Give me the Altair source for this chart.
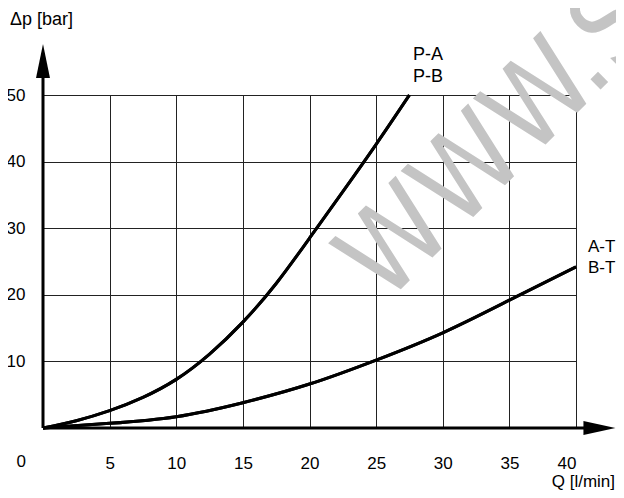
import altair as alt
import pandas as pd

# ---- data ----
q_pa = [0, 2.5, 5, 7.5, 10, 12.5, 15, 17.5, 20, 22.5, 25, 27.5]
dp_pa = [0, 1.1, 2.6, 4.6, 7.3, 11.1, 15.9, 21.7, 28.5, 35.5, 42.6, 50]
q_at = [0, 5, 10, 15, 20, 25, 30, 35, 40]
dp_at = [0, 0.7, 1.7, 3.8, 6.6, 10.2, 14.3, 19.2, 24.2]
x_ticks = [5, 10, 15, 20, 25, 30, 35, 40]
y_ticks = [10, 20, 30, 40, 50]

curves = pd.concat([
    pd.DataFrame({"Q": q_pa, "dp": dp_pa, "s": "P-A/P-B"}),
    pd.DataFrame({"Q": q_at, "dp": dp_at, "s": "A-T/B-T"}),
])

# annotation texts
ann_text = ["Δp [bar]", "P-A", "P-B"]
ann_x = [-2.48, 27.77, 27.77]
ann_y = [60.5, 55.26, 51.95]
ann = pd.DataFrame({"t": ann_text, "x": ann_x, "y": ann_y})

ann3_text = ["A-T", "B-T"]
ann3_x = [40.9, 40.9]
ann3_y = [26.4, 23.27]
ann3 = pd.DataFrame({"t": ann3_text, "x": ann3_x, "y": ann3_y})

ann2_text = ["Q [l/min]", "0"]
ann2_x = [42.93, -1.28]
ann2_y = [-8.86, -5.93]
ann2 = pd.DataFrame({"t": ann2_text, "x": ann2_x, "y": ann2_y})

xs = alt.Scale(domain=[0, 40], nice=False, zero=False)
ys = alt.Scale(domain=[0, 50], nice=False, zero=False)

FONT = "Liberation Sans"

lines = alt.Chart(curves).mark_line(
    color="black", strokeWidth=3, interpolate="natural", clip=False
).encode(
    x=alt.X("Q:Q", scale=xs, axis=alt.Axis(
        values=x_ticks, grid=True, domain=False, ticks=False, tickSize=0,
        labelPadding=27, labelFontSize=17, labelFont=FONT, labelColor="black",
        gridColor="#222", gridWidth=1, gridOpacity=1, title=None)),
    y=alt.Y("dp:Q", scale=ys, axis=alt.Axis(
        values=y_ticks, grid=True, domain=False, ticks=False, tickSize=0,
        labelPadding=18, labelFontSize=17, labelFont=FONT, labelColor="black",
        gridColor="#222", gridWidth=1, gridOpacity=1, title=None)),
    detail="s:N",
)

wm = alt.Chart(pd.DataFrame({"t": ["WWW.SL"], "x": [25.67], "y": [18.47]})).mark_text(
    font="Liberation Sans Narrow, DejaVu Sans Condensed, Liberation Sans",
    fontSize=115, angle=315, color="#c4c4c4",
    align="left", baseline="alphabetic", clip=False,
).encode(x=alt.X("x:Q", scale=xs), y=alt.Y("y:Q", scale=ys), text="t:N")

axes = alt.Chart(pd.DataFrame({
    "x": [0, 0], "x2": [41.3, 0], "y": [0, 0], "y2": [0, 53]
})).mark_rule(color="black", strokeWidth=3, clip=False).encode(
    x=alt.X("x:Q", scale=xs), x2="x2:Q", y=alt.Y("y:Q", scale=ys), y2="y2:Q"
)

arrow_up = alt.Chart(pd.DataFrame({"x": [0], "y": [55.1]})).mark_point(
    shape="M0,-1L0.41,1L-0.41,1Z", size=1156, filled=True, color="black",
    opacity=1, strokeWidth=0, clip=False,
).encode(x=alt.X("x:Q", scale=xs), y=alt.Y("y:Q", scale=ys))

arrow_right = alt.Chart(pd.DataFrame({"x": [41.76], "y": [0]})).mark_point(
    shape="M1,0L-1,0.44L-1,-0.44Z", size=1024, filled=True, color="black",
    opacity=1, strokeWidth=0, clip=False,
).encode(x=alt.X("x:Q", scale=xs), y=alt.Y("y:Q", scale=ys))

texts_l = alt.Chart(ann).mark_text(
    font=FONT, fontSize=18, color="black", align="left", baseline="alphabetic", clip=False
).encode(x=alt.X("x:Q", scale=xs), y=alt.Y("y:Q", scale=ys), text="t:N")
texts_at = alt.Chart(ann3).mark_text(
    font=FONT, fontSize=17, color="black", align="left", baseline="alphabetic", clip=False
).encode(x=alt.X("x:Q", scale=xs), y=alt.Y("y:Q", scale=ys), text="t:N")
texts_r = alt.Chart(ann2).mark_text(
    font=FONT, fontSize=17, color="black", align="right", baseline="alphabetic", clip=False
).encode(x=alt.X("x:Q", scale=xs), y=alt.Y("y:Q", scale=ys), text="t:N")

chart = alt.layer(lines, wm, axes, arrow_up, arrow_right, texts_l, texts_at, texts_r, lines).properties(
    width=533, height=333,
    autosize=alt.AutoSizeParams(type="none"),
    padding={"left": 35, "top": 87, "right": 40, "bottom": 62},
    background="white",
).configure_view(stroke=None)

chart.save("out.html", embed_options={"renderer": "svg", "actions": False})
